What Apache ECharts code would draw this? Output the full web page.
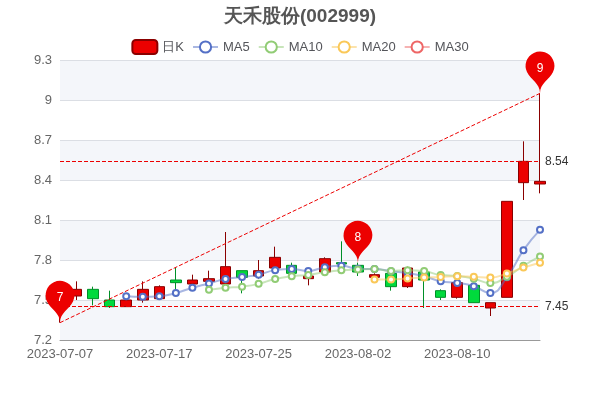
<!DOCTYPE html>
<html><head><meta charset="utf-8">
<script src="https://cdn.jsdelivr.net/npm/echarts@6/dist/echarts.min.js"></script>
<style>html,body{margin:0;padding:0}#main{width:600px;height:400px}</style>
</head><body><div id="main"></div>
<script>
let dates = ['2023-07-07','2023-07-10','2023-07-11','2023-07-12','2023-07-13','2023-07-14','2023-07-17','2023-07-18','2023-07-19','2023-07-20','2023-07-21','2023-07-24','2023-07-25','2023-07-26','2023-07-27','2023-07-28','2023-07-31','2023-08-01','2023-08-02','2023-08-03','2023-08-04','2023-08-07','2023-08-08','2023-08-09','2023-08-10','2023-08-11','2023-08-14','2023-08-15','2023-08-16','2023-08-17'];
// open, close, low, high
let kData = [
  [7.55,7.60,7.33,7.63],[7.53,7.58,7.50,7.64],[7.58,7.51,7.46,7.60],[7.50,7.45,7.44,7.57],
  [7.45,7.50,7.45,7.53],[7.50,7.58,7.48,7.64],[7.51,7.60,7.50,7.61],[7.65,7.63,7.55,7.74],
  [7.62,7.65,7.60,7.69],[7.64,7.66,7.62,7.72],[7.62,7.75,7.60,8.01],[7.72,7.67,7.55,7.72],
  [7.68,7.72,7.66,7.80],[7.74,7.82,7.72,7.90],[7.76,7.70,7.68,7.78],[7.66,7.68,7.61,7.70],
  [7.71,7.81,7.70,7.82],[7.78,7.77,7.74,7.94],[7.76,7.71,7.68,7.78],[7.67,7.69,7.63,7.70],
  [7.70,7.60,7.57,7.73],[7.60,7.74,7.59,7.75],[7.71,7.65,7.44,7.72],[7.57,7.52,7.50,7.58],
  [7.52,7.63,7.51,7.64],[7.61,7.48,7.48,7.63],[7.44,7.48,7.38,7.48],[7.52,8.24,7.52,8.24],
  [8.38,8.54,8.25,8.69],[8.37,8.39,8.30,9.05]
];
let maDays = [5, 10, 20, 30];
let maColors = ['#5470c6', '#91cc75', '#fac858', '#ee6666'];

// average of the previous n closes (needs n earlier days, so MA30 stays empty here)
function calcMA(n) {
  let res = [];
  for (let i = 0; i < kData.length; i++) {
    if (i < n - 1 || n >= kData.length) { res.push('-'); continue; }
    let s = 0;
    for (let j = 0; j < n; j++) s += kData[i - j][1];
    res.push(+(s / n).toFixed(3));
  }
  return res;
}

let dash = { color: '#ec0000', type: 'dashed', width: 1 };
let myChart = echarts.init(document.getElementById('main'));
let series = [{
  name: '日K',
  type: 'candlestick',
  data: kData,
  barWidth: 11,
  itemStyle: { color: '#ec0000', color0: '#00da3c', borderColor: '#8A0000', borderColor0: '#008F28' },
  markPoint: {
    symbolSize: 48,
    itemStyle: { color: '#ec0000' },
    label: { color: '#fff', fontSize: 12 },
    data: [
      { name: '7', value: 7, coord: [0, 7.33] },
      { name: '8', value: 8, coord: [18, 7.78] },
      { name: '9', value: 9, coord: [29, 9.05] }
    ]
  },
  markLine: {
    symbol: 'none',
    lineStyle: dash,
    label: { color: '#333', fontSize: 12 },
    data: [
      { yAxis: 8.54, lineStyle: dash },
      { yAxis: 7.45, lineStyle: dash },
      [{ coord: [0, 7.33], lineStyle: dash, label: { show: false } }, { coord: [29, 9.05] }]
    ]
  }
}];
maDays.forEach((n, k) => {
  series.push({
    name: 'MA' + n,
    type: 'line',
    data: calcMA(n),
    smooth: true,
    symbolSize: 6,
    itemStyle: { color: maColors[k] },
    lineStyle: { opacity: 0.5, width: 2 }
  });
});

let option = {
  title: { text: '天禾股份(002999)', left: 'center', top: 2, textStyle: { color: '#555', fontSize: 19, fontWeight: 'bold' } },
  legend: { top: 34, textStyle: { fontSize: 13 }, data: ['日K', 'MA5', 'MA10', 'MA20', 'MA30'] },
  grid: { left: 60, right: 60, top: 60, bottom: 60 },
  xAxis: {
    type: 'category',
    data: dates,
    boundaryGap: false,
    axisLine: { lineStyle: { color: '#999' } },
    axisLabel: { interval: 5, color: '#666', fontSize: 13 },
    axisTick: { show: false }
  },
  yAxis: {
    min: 7.2, max: 9.3, interval: 0.3,
    splitArea: { show: true },
    axisLabel: { color: '#666', fontSize: 13 }
  },
  series: series
};
myChart.setOption(option);
</script></body></html>
